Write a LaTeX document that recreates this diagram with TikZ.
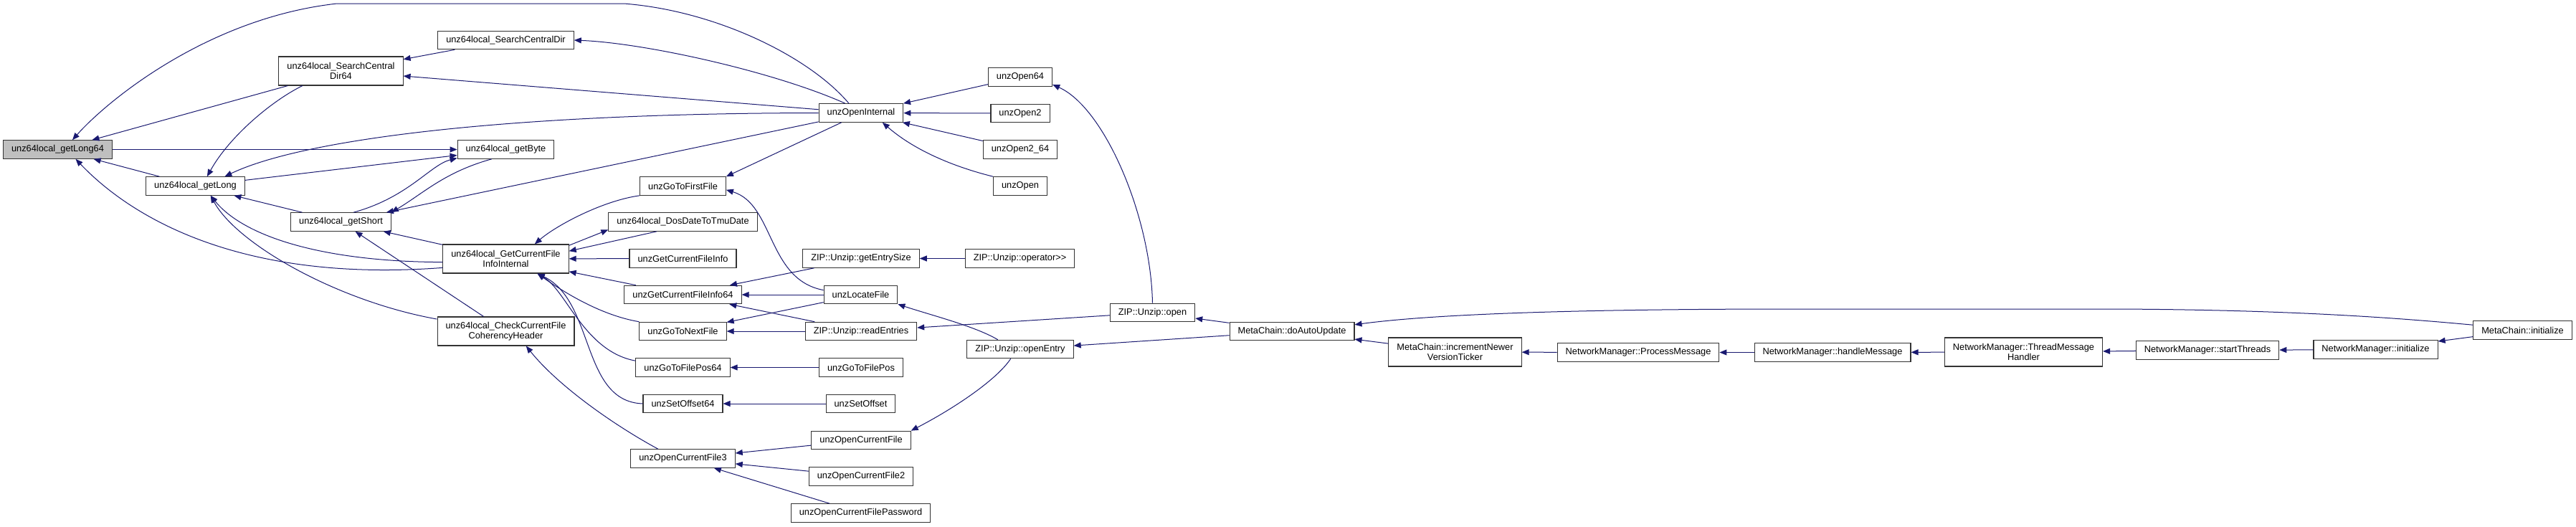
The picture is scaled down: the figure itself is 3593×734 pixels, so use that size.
\documentclass[tikz,border=0pt]{standalone}
\usepackage{fontspec}
\setmainfont{Liberation Sans}
\usetikzlibrary{arrows.meta}
\definecolor{edgeblue}{HTML}{191970}
\definecolor{maingray}{HTML}{BFBFBF}

\begin{document}
\begin{tikzpicture}[x=1pt,y=-1pt,
  fn/.style={draw=black!80,line width=1.1pt,fill=white,inner xsep=11.5pt,inner ysep=0pt,
    minimum height=25.5pt,align=center,font=\fontsize{12.8}{14.5}\selectfont},
  fntwo/.style={fn,minimum height=40pt},
  call/.style={draw=edgeblue,line width=1pt,{Triangle[length=10pt,width=8pt]}-}]
  \fill[white] (0,0) rectangle (3593,734);
  \useasboundingbox (0,0) rectangle (3593,734);
  % unz64local helpers on the left
  \node[fn,fill=maingray] (getLong64) at (80.5,208.5) {unz64local\_getLong64};
  \node[fntwo] (scd64) at (475.5,99) {unz64local\_SearchCentral\\Dir64};
  \node[fn] (getLong) at (272.5,259.5) {unz64local\_getLong};
  \node[fn] (getShort) at (475.5,309.5) {unz64local\_getShort};
  \node[fn] (scd) at (705.5,56) {unz64local\_SearchCentralDir};
  \node[fn] (getByte) at (705.5,208.5) {unz64local\_getByte};
  \node[fntwo] (gcfii) at (705.5,361) {unz64local\_GetCurrentFile\\InfoInternal};
  \node[fntwo] (check) at (705.5,462) {unz64local\_CheckCurrentFile\\CoherencyHeader};
  % unz* api column
  \node[fn] (firstFile) at (952.5,259.5) {unzGoToFirstFile};
  \node[fn] (dosDate) at (952.5,309.5) {unz64local\_DosDateToTmuDate};
  \node[fn] (gcfi) at (952.5,360.5) {unzGetCurrentFileInfo};
  \node[fn] (gcfi64) at (952.5,411) {unzGetCurrentFileInfo64};
  \node[fn] (nextFile) at (952.5,462) {unzGoToNextFile};
  \node[fn] (filePos64) at (952.5,512.5) {unzGoToFilePos64};
  \node[fn] (setOffset64) at (952.5,563) {unzSetOffset64};
  \node[fn] (ocf3) at (952.5,639.5) {unzOpenCurrentFile3};
  % next column
  \node[fn] (openInternal) at (1201,157.5) {unzOpenInternal};
  \node[fn] (entrySize) at (1201,360.5) {ZIP::Unzip::getEntrySize};
  \node[fn] (locateFile) at (1200.5,411) {unzLocateFile};
  \node[fn] (readEntries) at (1201,462) {ZIP::Unzip::readEntries};
  \node[fn] (filePos) at (1201,512.5) {unzGoToFilePos};
  \node[fn] (setOffset) at (1200.5,563) {unzSetOffset};
  \node[fn] (ocf) at (1201,614) {unzOpenCurrentFile};
  \node[fn] (ocf2) at (1201,664.5) {unzOpenCurrentFile2};
  \node[fn] (ocfPw) at (1200.5,715.5) {unzOpenCurrentFilePassword};
  \node[fn] (unzOpen64) at (1423,107.5) {unzOpen64};
  \node[fn] (unzOpen2) at (1423,158) {unzOpen2};
  \node[fn] (unzOpen2x64) at (1423,208.5) {unzOpen2\_64};
  \node[fn] (unzOpen) at (1423,259.5) {unzOpen};
  \node[fn] (operatorOut) at (1422.5,360.5) {ZIP::Unzip::operator\mbox{>}\mbox{>}};
  \node[fn] (openEntry) at (1423,487) {ZIP::Unzip::openEntry};
  \node[fn] (zipOpen) at (1607.5,436) {ZIP::Unzip::open};
  % MetaChain / NetworkManager chain
  \node[fn] (doAutoUpdate) at (1802,462) {MetaChain::doAutoUpdate};
  \node[fntwo] (incNewer) at (2029.5,491) {MetaChain::incrementNewer\\VersionTicker};
  \node[fn] (processMsg) at (2285,491.5) {NetworkManager::ProcessMessage};
  \node[fn] (handleMsg) at (2556,491.5) {NetworkManager::handleMessage};
  \node[fntwo] (threadMsg) at (2822.5,491) {NetworkManager::ThreadMessage\\Handler};
  \node[fn] (startThreads) at (3079,488.5) {NetworkManager::startThreads};
  \node[fn] (nmInit) at (3313.5,487.5) {NetworkManager::initialize};
  \node[fn] (mcInit) at (3518.5,460.5) {MetaChain::initialize};

  % calls into the helpers
  \draw[call] (getLong64.33) .. controls (150,140) and (290,25) .. (470,5) -- (870,5)
    .. controls (1000,15) and (1130,80) .. (openInternal.142);
  \draw[call] (getLong64) -- (scd64);
  \draw[call] (getByte) -- (getLong64);
  \draw[call] (getLong64) -- (getLong);
  \draw[call] (getLong64.332) .. controls (180,300) and (330,395) .. (gcfii.188);
  \draw[call] (scd64) -- (scd);
  \draw[call] (scd64) -- (openInternal);
  \draw[call] (scd.east) .. controls (900,60) and (1080,100) .. (openInternal.149);
  \draw[call] (getLong.39) .. controls (320,190) and (380,140) .. (scd64.201);
  \draw[call] (getLong.18) .. controls (420,195) and (700,158) .. (openInternal.west);
  \draw[call] (getLong) -- (getShort);
  \draw[call] (getLong.328) .. controls (340,330) and (450,365) .. (gcfii.183);
  \draw[call] (getLong.328) .. controls (330,340) and (470,420) .. (check.170);
  \draw[call] (getByte) -- (getLong);
  \draw[call] (getByte.190) .. controls (600,230) and (570,275) .. (getShort.37);
  \draw[call] (getShort.north east) .. controls (590,270) and (620,240) .. (getByte.214);
  \draw[call] (getShort) -- (openInternal);
  \draw[call] (getShort) -- (gcfii);
  \draw[call] (getShort) -- (check);
  % calls into GetCurrentFileInfoInternal
  \draw[call] (gcfii.27) .. controls (775,315) and (840,280) .. (firstFile.south west);
  \draw[call] (dosDate.186) -- (gcfii.12);
  \draw[call] (gcfii.7) -- (dosDate.200);
  \draw[call] (gcfii) -- (gcfi);
  \draw[call] (gcfii) -- (gcfi64);
  \draw[call] (gcfii.335) .. controls (790,410) and (840,440) .. (nextFile.north west);
  \draw[call] (gcfii.335) .. controls (790,405) and (815,490) .. (filePos64.172);
  \draw[call] (gcfii.335) .. controls (830,420) and (810,560) .. (setOffset64.west);
  \draw[call] (check.324) .. controls (780,540) and (860,595) .. (ocf3.159);
  % unz* api
  \draw[call] (firstFile.north east) -- (openInternal.206);
  \draw[call] (firstFile.355) .. controls (1080,285) and (1070,390) .. (locateFile.173);
  \draw[call] (gcfi64) -- (entrySize);
  \draw[call] (gcfi64) -- (locateFile);
  \draw[call] (gcfi64) -- (readEntries);
  \draw[call] (nextFile) -- (locateFile);
  \draw[call] (nextFile) -- (readEntries);
  \draw[call] (filePos64) -- (filePos);
  \draw[call] (setOffset64) -- (setOffset);
  \draw[call] (ocf3) -- (ocf);
  \draw[call] (ocf3) -- (ocf2);
  \draw[call] (ocf3) -- (ocfPw);
  \draw[call] (openInternal) -- (unzOpen64);
  \draw[call] (openInternal) -- (unzOpen2);
  \draw[call] (openInternal) -- (unzOpen2x64);
  \draw[call] (openInternal.336) .. controls (1270,205) and (1320,230) .. (unzOpen.north west);
  \draw[call] (entrySize) -- (operatorOut);
  \draw[call] (locateFile.south east) .. controls (1300,440) and (1360,455) .. (openEntry.157);
  \draw[call] (readEntries) -- (zipOpen);
  \draw[call] (ocf.north east) .. controls (1330,570) and (1390,530) .. (openEntry.225);
  \draw[call] (unzOpen64.347) .. controls (1540,150) and (1605,300) .. (zipOpen.north);
  \draw[call] (openEntry) -- (doAutoUpdate);
  \draw[call] (zipOpen) -- (doAutoUpdate);
  % MetaChain / NetworkManager
  \draw[call] (doAutoUpdate.6) .. controls (2000,438) and (2200,431) .. (2500,431) -- (2950,431)
    .. controls (3200,432) and (3350,444) .. (mcInit.174);
  \draw[call] (doAutoUpdate) -- (incNewer);
  \draw[call] (incNewer) -- (processMsg);
  \draw[call] (processMsg) -- (handleMsg);
  \draw[call] (handleMsg) -- (threadMsg);
  \draw[call] (threadMsg) -- (startThreads);
  \draw[call] (startThreads) -- (nmInit);
  \draw[call] (nmInit) -- (mcInit);
\end{tikzpicture}
\end{document}
